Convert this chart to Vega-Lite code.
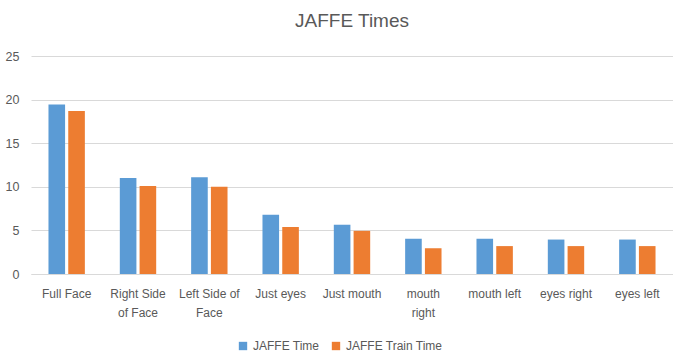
{
  "$schema": "https://vega.github.io/schema/vega-lite/v6.json",
  "width": 642,
  "height": 218,
  "padding": {"left": 5, "top": 12, "right": 0, "bottom": 5},
  "background": "white",
  "title": {
    "text": "JAFFE Times",
    "fontSize": 19,
    "font": "Liberation Sans",
    "fontWeight": "normal",
    "color": "#595959",
    "offset": 19,
    "anchor": "middle"
  },
  "config": {
    "font": "Liberation Sans",
    "view": {"stroke": null},
    "axis": {
      "labelColor": "#595959",
      "labelFont": "Liberation Sans",
      "labelFontSize": 12,
      "titleColor": "#595959",
      "ticks": false,
      "gridColor": "#D9D9D9"
    }
  },
  "data": {
    "values": [
      {"category": "Full Face", "series": "JAFFE Time", "value": 19.45},
      {"category": "Full Face", "series": "JAFFE Train Time", "value": 18.7},
      {"category": "Right Side of Face", "series": "JAFFE Time", "value": 11.0},
      {"category": "Right Side of Face", "series": "JAFFE Train Time", "value": 10.1},
      {"category": "Left Side of Face", "series": "JAFFE Time", "value": 11.1},
      {"category": "Left Side of Face", "series": "JAFFE Train Time", "value": 10.0},
      {"category": "Just eyes", "series": "JAFFE Time", "value": 6.8},
      {"category": "Just eyes", "series": "JAFFE Train Time", "value": 5.4},
      {"category": "Just mouth", "series": "JAFFE Time", "value": 5.65},
      {"category": "Just mouth", "series": "JAFFE Train Time", "value": 4.95},
      {"category": "mouth right", "series": "JAFFE Time", "value": 4.05},
      {"category": "mouth right", "series": "JAFFE Train Time", "value": 2.95},
      {"category": "mouth left", "series": "JAFFE Time", "value": 4.05},
      {"category": "mouth left", "series": "JAFFE Train Time", "value": 3.2},
      {"category": "eyes right", "series": "JAFFE Time", "value": 3.95},
      {"category": "eyes right", "series": "JAFFE Train Time", "value": 3.2},
      {"category": "eyes left", "series": "JAFFE Time", "value": 3.95},
      {"category": "eyes left", "series": "JAFFE Train Time", "value": 3.2}
    ]
  },
  "mark": {"type": "bar"},
  "encoding": {
    "x": {
      "field": "category",
      "type": "nominal",
      "sort": null,
      "scale": {"paddingInner": 0.49, "paddingOuter": 0.245},
      "axis": {
        "title": null,
        "labelAngle": 0,
        "labelPadding": 14,
        "labelLineHeight": 19,
        "domainColor": "#D9D9D9",
        "domainWidth": 1,
        "labelExpr": "datum.value == 'Right Side of Face' ? ['Right Side', 'of Face'] : datum.value == 'Left Side of Face' ? ['Left Side of', 'Face'] : datum.value == 'mouth right' ? ['mouth', 'right'] : datum.value"
      }
    },
    "xOffset": {
      "field": "series",
      "type": "nominal",
      "scale": {"paddingInner": 0.16}
    },
    "y": {
      "field": "value",
      "type": "quantitative",
      "scale": {"domain": [0, 25]},
      "axis": {
        "title": null,
        "values": [0, 5, 10, 15, 20, 25],
        "domain": false,
        "labelPadding": 12,
        "labelFontSize": 12.5,
        "gridWidth": 1
      }
    },
    "color": {
      "field": "series",
      "type": "nominal",
      "scale": {
        "domain": ["JAFFE Time", "JAFFE Train Time"],
        "range": ["#5B9BD5", "#ED7D31"]
      },
      "legend": {
        "title": null,
        "orient": "none",
        "legendX": 206,
        "legendY": 284,
        "direction": "horizontal",
        "symbolType": "square",
        "symbolSize": 70,
        "symbolStrokeWidth": 0,
        "labelColor": "#595959",
        "labelFontSize": 12,
        "labelFont": "Liberation Sans",
        "columnPadding": 10
      }
    }
  }
}
